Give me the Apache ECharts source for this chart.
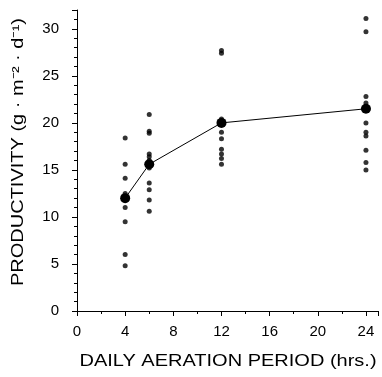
<!DOCTYPE html>
<html><head><meta charset="utf-8">
<script src="https://cdn.jsdelivr.net/npm/echarts@6/dist/echarts.min.js"></script>
<style>html,body{margin:0;padding:0;background:#fff}#c{width:382px;height:377px}</style>
</head><body><div id="c"></div>
<script>
var periods = [4, 6, 12, 24];
var obs4 = [18.4, 15.6, 14.1, 12.5, 12.2, 11.8, 11.0, 9.5, 6.0, 4.8];
var obs6 = [20.9, 19.1, 18.9, 16.7, 16.4, 16.0, 15.2, 13.6, 12.9, 11.8, 10.6];
var obs12 = [27.7, 27.4, 20.4, 19.0, 18.3, 17.2, 16.7, 16.2, 15.6];
var obs24 = [31.1, 29.7, 22.8, 22.1, 20.0, 19.0, 18.6, 17.1, 15.8, 15.0];
var means = [12.0, 15.6, 20.0, 21.5];
var xTicks = [0, 4, 8, 12, 16, 20, 24];
var yTicks = [0, 5, 10, 15, 20, 25, 30];
var xTitle = 'DAILY AERATION PERIOD (hrs.)';
var yTitle = 'PRODUCTIVITY (g · m\u207B\u00B2 · d\u207B\u00B9)';

function pts(x, arr){ return arr.map(function(v){ return [x, v]; }); }
var obsAll = [].concat(pts(periods[0], obs4), pts(periods[1], obs6), pts(periods[2], obs12), pts(periods[3], obs24));
var meanPts = periods.map(function(p, i){ return [p, means[i]]; });

var font = '"Liberation Sans", Arial, sans-serif';
var chart = echarts.init(document.getElementById('c'));
chart.setOption({
  animation: false,
  grid: {left: 77, right: 4, top: 10, bottom: 66},
  xAxis: {
    type: 'value', min: 0, max: 25, interval: 4,
    axisLine: {lineStyle: {color: '#000', width: 1}},
    axisTick: {show: true, length: 5, lineStyle: {color: '#000'}},
    minorTick: {show: true, splitNumber: 2, length: 3, lineStyle: {color: '#000'}},
    splitLine: {show: false},
    axisLabel: {color: '#000', fontSize: 15, fontFamily: font, margin: 13,
      formatter: function(v){ return xTicks.indexOf(v) >= 0 ? String(v) : ''; }}
  },
  yAxis: {
    type: 'value', min: 0, max: 32, interval: 5,
    axisLine: {show: true, lineStyle: {color: '#000', width: 1}},
    axisTick: {show: true, length: 5, lineStyle: {color: '#000'}},
    minorTick: {show: true, splitNumber: 5, length: 3, lineStyle: {color: '#000'}},
    splitLine: {show: false},
    axisLabel: {color: '#000', fontSize: 15, fontFamily: font, margin: 18,
      formatter: function(v){ return yTicks.indexOf(v) >= 0 ? String(v) : ''; }}
  },
  graphic: [{
    type: 'text', x: 228, y: 362, scaleX: 1.25,
    style: {text: xTitle, fill: '#000', font: '16px ' + font,
      align: 'center', verticalAlign: 'middle', textAlign: 'center', textVerticalAlign: 'middle'}
  }, {
    type: 'text', x: 19, y: 152, rotation: Math.PI / 2, scaleX: 1.25,
    style: {text: yTitle, fill: '#000', font: '16px ' + font,
      align: 'center', verticalAlign: 'middle', textAlign: 'center', textVerticalAlign: 'middle'}
  }],
  series: [
    {type: 'scatter', data: obsAll, symbolSize: 5, itemStyle: {color: '#000'}, z: 3},
    {type: 'line', data: meanPts, symbol: 'circle', symbolSize: 10,
     lineStyle: {color: '#000', width: 1}, itemStyle: {color: '#000'}, z: 4}
  ]
});
</script></body></html>
